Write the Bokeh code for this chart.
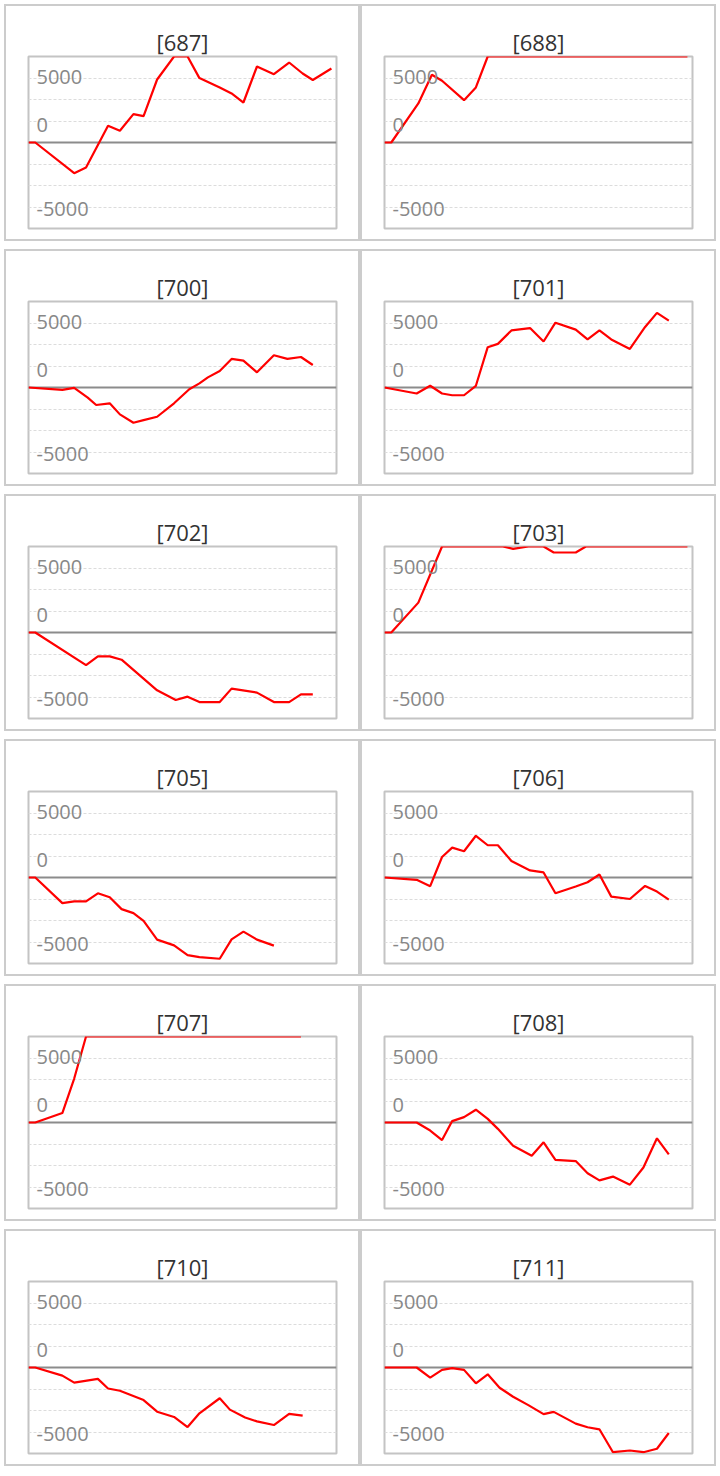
from bokeh.plotting import figure
from bokeh.layouts import column, row
from bokeh.models import Range1d, Label, Span, FixedTicker, Title
from bokeh.embed import file_html
from bokeh.resources import INLINE

# ---------------- data (x = day index, y = value) ----------------
TITLES = ["[687]", "[688]", "[700]", "[701]", "[702]", "[703]",
          "[705]", "[706]", "[707]", "[708]", "[710]", "[711]"]

X_687 = [0, 4, 27, 34, 47, 54, 62, 68, 76, 86, 94, 101, 113, 120, 127, 135, 145, 154, 162, 168, 179]
Y_687 = [0, 0, -2850, -2330, 1550, 1090, 2640, 2460, 5860, 8000, 8000, 5990, 5120, 4560, 3720, 7070, 6360, 7440, 6420, 5810, 6880]

X_688 = [0, 4, 20, 28, 34, 47, 54, 61, 68, 76, 86, 94, 101, 113, 120, 127, 135, 145, 153, 161, 168, 179]
Y_688 = [0, 0, 3630, 6300, 5740, 3940, 5120, 8000, 8000, 8000, 8000, 8000, 8000, 8000, 8000, 8000, 8000, 8000, 8000, 8000, 8000, 8000]

X_700 = [0, 20, 27, 35, 40, 48, 54, 62, 68, 76, 86, 95, 101, 106, 113, 120, 127, 135, 145, 153, 161, 168]
Y_700 = [0, -220, -30, -940, -1630, -1470, -2500, -3280, -3030, -2720, -1470, -160, 380, 940, 1530, 2660, 2500, 1410, 3000, 2660, 2840, 2090]

X_701 = [0, 19, 27, 34, 40, 47, 54, 61, 67, 75, 86, 94, 101, 113, 120, 127, 134, 145, 154, 161, 168]
Y_701 = [0, -560, 160, -560, -720, -720, 160, 3750, 4060, 5310, 5530, 4280, 6030, 5380, 4470, 5310, 4470, 3590, 5630, 6940, 6220]

X_702 = [0, 4, 34, 41, 48, 55, 76, 87, 94, 101, 113, 120, 135, 145, 154, 161, 168]
Y_702 = [0, 0, -3030, -2220, -2220, -2530, -5380, -6280, -5970, -6470, -6470, -5220, -5590, -6470, -6470, -5750, -5750]

X_703 = [0, 4, 20, 34, 47, 54, 61, 70, 76, 85, 94, 100, 113, 119, 127, 135, 145, 153, 161, 168, 179]
Y_703 = [0, 0, 2780, 8000, 8000, 8000, 8000, 8000, 7780, 8000, 8000, 7440, 7440, 8000, 8000, 8000, 8000, 8000, 8000, 8000, 8000]

X_705 = [0, 4, 20, 27, 34, 41, 48, 55, 62, 68, 76, 86, 94, 101, 113, 120, 127, 135, 145]
Y_705 = [0, 0, -2380, -2220, -2220, -1470, -1840, -2940, -3310, -4030, -5780, -6310, -7220, -7410, -7560, -5750, -5030, -5780, -6340]

X_706 = [0, 19, 27, 34, 40, 47, 54, 61, 67, 75, 86, 94, 101, 113, 120, 127, 134, 145, 154, 161, 168]
Y_706 = [0, -220, -810, 1910, 2780, 2440, 3880, 3000, 3000, 1530, 660, 470, -1470, -840, -440, 280, -1780, -2000, -780, -1310, -2060]

X_707 = [0, 4, 20, 27, 34, 47, 54, 61, 68, 76, 86, 94, 101, 113, 120, 127, 135, 145, 153, 161]
Y_707 = [0, 0, 880, 4090, 8000, 8000, 8000, 8000, 8000, 8000, 8000, 8000, 8000, 8000, 8000, 8000, 8000, 8000, 8000, 8000]

X_708 = [0, 19, 27, 34, 40, 47, 54, 61, 67, 76, 87, 94, 101, 113, 120, 127, 135, 145, 153, 161, 168]
Y_708 = [0, 0, -750, -1630, 130, 500, 1190, 340, -590, -2160, -3090, -1840, -3470, -3590, -4720, -5380, -5030, -5780, -4190, -1470, -2970]

X_710 = [0, 4, 20, 27, 41, 47, 54, 68, 76, 86, 94, 101, 113, 119, 128, 135, 145, 154, 162]
Y_710 = [0, 0, -760, -1410, -1060, -1950, -2160, -3030, -4110, -4600, -5540, -4260, -2860, -3920, -4650, -5010, -5350, -4310, -4480]

X_711 = [0, 19, 27, 34, 40, 47, 54, 61, 68, 76, 85, 94, 100, 113, 120, 127, 135, 145, 153, 161, 168]
Y_711 = [0, 0, -940, -220, -60, -220, -1470, -630, -1880, -2720, -3500, -4340, -4130, -5220, -5560, -5750, -7880, -7720, -7880, -7560, -6090]

SERIES = [(X_687, Y_687), (X_688, Y_688), (X_700, Y_700), (X_701, Y_701),
          (X_702, Y_702), (X_703, Y_703), (X_705, Y_705), (X_706, Y_706),
          (X_707, Y_707), (X_708, Y_708), (X_710, Y_710), (X_711, Y_711)]

X_MIN, X_MAX = 0, 182
Y_MIN, Y_MAX = -8000, 8000
GRID_TICKS = [-6000, -4000, -2000, 2000, 4000, 6000]
TICK_POS = [6000, 2000, -6000]
TICK_LABELS = ["5000", "0", "-5000"]
TICK_NUDGE = [1.5, -3.5, -2.0]   # px, label fine positioning


def make_panel(title, xs, ys):
    p = figure(width=352, height=233, output_backend="svg", toolbar_location=None,
               x_range=Range1d(X_MIN, X_MAX), y_range=Range1d(Y_MIN, Y_MAX),
               min_border_left=22, min_border_right=26,
               min_border_top=50, min_border_bottom=15,
               background_fill_color="white", border_fill_color="white")
    p.xaxis.visible = False
    p.yaxis.visible = False
    p.xgrid.visible = False
    p.ygrid.ticker = FixedTicker(ticks=GRID_TICKS)
    p.ygrid.grid_line_color = "#dcdcdc"
    p.ygrid.grid_line_dash = "3 2"
    p.ygrid.grid_line_width = 1
    p.outline_line_color = "#c4c4c4"
    p.outline_line_width = 2
    p.outline_line_alpha = 1.0

    # built-in title slot (nearest the plot area): invisible spacer
    p.title.text = "."
    p.title.text_font_size = "1px"
    p.title.text_alpha = 0.0
    p.title.text_color = "white"
    p.title.standoff = 16

    # visible panel title, stacked above the spacer
    p.add_layout(Title(text=title, align="center", vertical_align="bottom",
                       standoff=0, text_font="Open Sans", text_font_size="22px",
                       text_font_style="normal", text_color="#333333"), "above")

    p.add_layout(Span(location=0, dimension="width", line_color="#8c8c8c",
                      line_width=2, level="underlay"))

    for pos, lbl, nudge in zip(TICK_POS, TICK_LABELS, TICK_NUDGE):
        p.add_layout(Label(x=X_MIN, y=pos, x_offset=8, y_offset=nudge, text=lbl,
                           text_baseline="middle", text_align="left",
                           text_font="Open Sans", text_font_size="20px",
                           text_color="#888888"))

    p.line(xs, ys, line_color="#ff0000", line_width=2.2)
    p.styles = {"border": "2px solid #cccccc", "box-sizing": "content-box"}
    return p


panels = [make_panel(t, xs, ys) for t, (xs, ys) in zip(TITLES, SERIES)]
rows = [row(panels[i], panels[i + 1], spacing=0) for i in range(0, len(panels), 2)]
layout = column(*rows, spacing=8, margin=(4, 0, 0, 4))

open("out.html", "w").write(file_html(layout, INLINE))
